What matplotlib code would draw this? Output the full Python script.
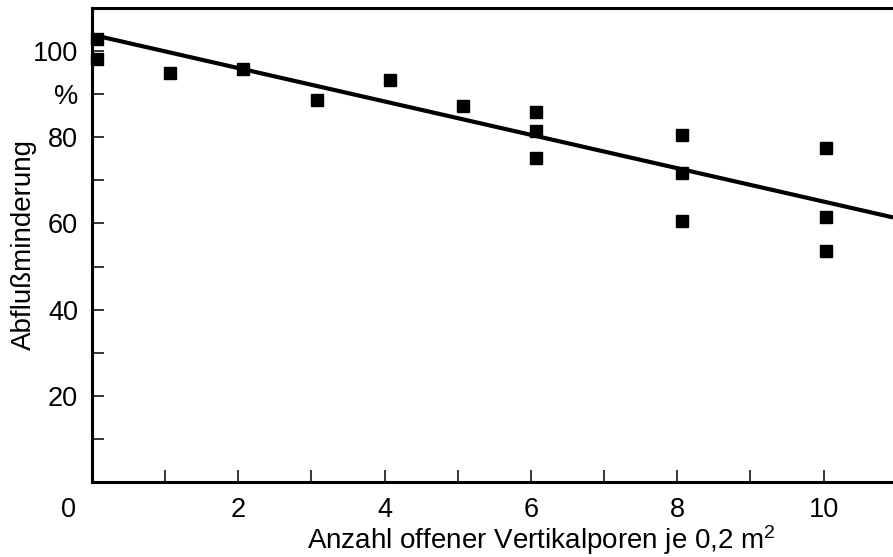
import matplotlib
matplotlib.use("Agg")
import matplotlib.pyplot as plt
import numpy as np

# measured points (Anzahl Poren, Abflussminderung %)
poren = [0.07, 0.07, 1.07, 2.07, 3.07, 4.07, 5.07,
         6.07, 6.07, 6.07, 8.07, 8.07, 8.07, 10.04, 10.04, 10.04]
minderung = [102.8, 98.1, 94.9, 95.8, 88.6, 93.3, 87.2,
             85.8, 81.4, 75.1, 80.5, 71.6, 60.5, 77.4, 61.4, 53.7]

# regression line
fit_x = [0.0, 10.95]
fit_y = [103.8, 61.4]

xticks = [2, 4, 6, 8, 10]
yticks = [20, 40, 60, 80, 90, 100]
ytick_labels = ['20', '40', '60', '80', '%', '100']

plt.rcParams['font.family'] = ['Liberation Sans', 'DejaVu Sans']
plt.rcParams['mathtext.fontset'] = 'custom'
plt.rcParams['mathtext.rm'] = 'Liberation Sans'
plt.rcParams['mathtext.it'] = 'Liberation Sans'

fig = plt.figure(figsize=(8.93, 5.57), dpi=100)
ax = fig.add_axes([92 / 893, 1 - 482 / 557, 1 - 92 / 893, (482 - 8) / 557])

ax.plot(fit_x, fit_y, color='black', linewidth=3, solid_capstyle='butt', clip_on=False)
ax.plot(poren, minderung, linestyle='none', marker='s', markersize=8.5,
        color='black', clip_on=False)

ax.set_xlim(0, 10.95)
ax.set_ylim(0, 110)

ax.spines['right'].set_visible(False)
for side in ['left', 'bottom', 'top']:
    ax.spines[side].set_linewidth(2.2)

ax.set_xticks(range(1, 11))
ax.set_xticklabels(['' if i % 2 else str(i) for i in range(1, 11)])
ax.set_yticks(range(10, 101, 10))
ax.set_yticklabels([ytick_labels[yticks.index(v)] if v in yticks else '' for v in range(10, 101, 10)])
ax.tick_params(direction='in', length=8.5, width=1.1, labelsize=19.5)
ax.tick_params(axis='x', pad=10.5)
ax.tick_params(axis='y', pad=10)

ax.annotate('0', xy=(0, 0), xycoords='data', xytext=(-17, -20),
            textcoords='offset points', ha='center', va='center', fontsize=19.5)

fig.text(541 / 893, 1 - 549 / 557, 'Anzahl offener Vertikalporen je 0,2 m$^2$',
         ha='center', va='baseline', fontsize=20)
fig.text(24 / 893, 1 - 244 / 557, 'Abflußminderung', rotation=90,
         ha='center', va='center', fontsize=20)

fig.savefig('out.png', dpi=100)
